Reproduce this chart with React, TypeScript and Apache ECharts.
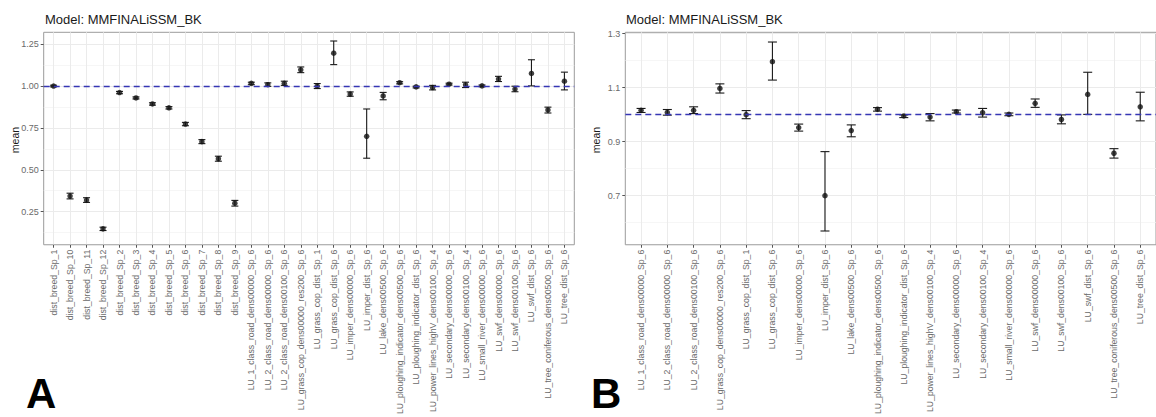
import React, { useEffect, useRef } from "react";
import * as echarts from "echarts";

const titleText = "Model: MMFINALiSSM_BK";

const distCats = [
  "dist_breed_Sp_1", "dist_breed_Sp_10", "dist_breed_Sp_11", "dist_breed_Sp_12",
  "dist_breed_Sp_2", "dist_breed_Sp_3", "dist_breed_Sp_4", "dist_breed_Sp_5",
  "dist_breed_Sp_6", "dist_breed_Sp_7", "dist_breed_Sp_8", "dist_breed_Sp_9",
];
const distMean = [1.0, 0.343, 0.319, 0.147, 0.961, 0.929, 0.893, 0.87, 0.773, 0.668, 0.566, 0.3];
const distLo = [0.995, 0.326, 0.305, 0.137, 0.954, 0.923, 0.886, 0.863, 0.763, 0.656, 0.551, 0.283];
const distHi = [1.005, 0.36, 0.333, 0.157, 0.968, 0.935, 0.9, 0.877, 0.783, 0.68, 0.581, 0.317];

const luCats = [
  "LU_1_class_road_dens00000_Sp_6", "LU_2_class_road_dens00000_Sp_6", "LU_2_class_road_dens00100_Sp_6",
  "LU_grass_cop_dens00000_res200_Sp_6", "LU_grass_cop_dist_Sp_1", "LU_grass_cop_dist_Sp_6",
  "LU_imper_dens00000_Sp_6", "LU_imper_dist_Sp_6", "LU_lake_dens00500_Sp_6",
  "LU_ploughing_indicator_dens00500_Sp_6", "LU_ploughing_indicator_dist_Sp_6",
  "LU_power_lines_highV_dens00100_Sp_4", "LU_secondary_dens00000_Sp_6", "LU_secondary_dens00100_Sp_4",
  "LU_small_river_dens00000_Sp_6", "LU_swf_dens00000_Sp_6", "LU_swf_dens00100_Sp_6",
  "LU_swf_dist_Sp_6", "LU_tree_coniferous_dens00500_Sp_6", "LU_tree_dist_Sp_6",
];
const luMean = [1.016, 1.008, 1.016, 1.097, 1.0, 1.196, 0.952, 0.7, 0.941, 1.02, 0.995, 0.991, 1.011, 1.007, 1.001, 1.042, 0.982, 1.075, 0.857, 1.029];
const luLo = [1.008, 0.998, 1.004, 1.08, 0.985, 1.128, 0.939, 0.569, 0.918, 1.013, 0.989, 0.977, 1.006, 0.991, 0.996, 1.027, 0.966, 1.001, 0.839, 0.977];
const luHi = [1.023, 1.019, 1.029, 1.114, 1.015, 1.269, 0.965, 0.863, 0.962, 1.026, 0.999, 1.004, 1.017, 1.023, 1.006, 1.058, 0.999, 1.157, 0.874, 1.083];

const ticksA = [0.25, 0.5, 0.75, 1.0, 1.25];
const minorA = [0.125, 0.375, 0.625, 0.875, 1.125];
const ticksB = [0.7, 0.9, 1.1, 1.3];
const minorB = [0.6, 0.8, 1.0, 1.2];
const refValue = 1;

const FONT = "'Liberation Sans', Arial, sans-serif";

export default function App() {
  const ref = useRef<HTMLDivElement>(null);
  useEffect(() => {
    if (!ref.current) return;
    const chart = echarts.init(ref.current, null, { renderer: "svg" });

    const catsA = distCats.concat(luCats);
    const meanA = distMean.concat(luMean);
    const loA = distLo.concat(luLo);
    const hiA = distHi.concat(luHi);

    const xAxisFor = (gridIndex: number, cats: string[]) => {
      const idx = cats.map((_, i) => i + 1);
      return {
        type: "value",
        gridIndex,
        min: 0.4,
        max: cats.length + 0.6,
        axisLine: { show: false },
        axisTick: { show: true, length: 3, customValues: idx, lineStyle: { color: "#555", width: 1 } },
        axisLabel: {
          customValues: idx,
          rotate: 90,
          margin: 5,
          fontSize: 8.7,
          color: "#6a6a6a",
          fontFamily: FONT,
          formatter: (v: number) => cats[Math.round(v) - 1] ?? "",
        },
        splitLine: { show: true, lineStyle: { color: "#ebebeb", width: 1 } },
      };
    };

    const yMajor = (gridIndex: number, min: number, max: number, ticks: number[], dec: number) => ({
      type: "value",
      gridIndex,
      min,
      max,
      axisLine: { show: false },
      axisTick: { show: true, length: 3, customValues: ticks, lineStyle: { color: "#555", width: 1 } },
      axisLabel: {
        customValues: ticks,
        margin: 5,
        fontSize: 9,
        color: "#6a6a6a",
        fontFamily: FONT,
        formatter: (v: number) => v.toFixed(dec),
      },
      splitLine: { show: true, lineStyle: { color: "#ebebeb", width: 1 } },
    });

    const yMinor = (gridIndex: number, min: number, max: number, ticks: number[]) => ({
      type: "value",
      gridIndex,
      min,
      max,
      position: "left",
      axisLine: { show: false },
      axisTick: { show: false, customValues: ticks },
      axisLabel: { show: false, customValues: ticks },
      splitLine: { show: true, lineStyle: { color: "#f2f2f2", width: 0.7 } },
    });

    const errSeries = (xi: number, yi: number, data: number[][], half: number) => ({
      type: "custom",
      xAxisIndex: xi,
      yAxisIndex: yi,
      encode: { x: 0, y: [1, 2] },
      z: 3,
      silent: true,
      clip: false,
      renderItem: (_p: any, api: any) => {
        const x = api.value(0);
        const top = api.coord([x, api.value(2)]);
        const bot = api.coord([x, api.value(1)]);
        const st = { stroke: "#1a1a1a", lineWidth: 1.1 };
        return {
          type: "group",
          children: [
            { type: "line", shape: { x1: top[0], y1: top[1], x2: bot[0], y2: bot[1] }, style: st },
            { type: "line", shape: { x1: top[0] - half, y1: top[1], x2: top[0] + half, y2: top[1] }, style: st },
            { type: "line", shape: { x1: bot[0] - half, y1: bot[1], x2: bot[0] + half, y2: bot[1] }, style: st },
          ],
        };
      },
      data,
    });

    const markLine = {
      silent: true,
      symbol: ["none", "none"],
      label: { show: false },
      lineStyle: { type: [6, 4], color: "#3636b4", width: 1.4 },
      data: [{ yAxis: refValue }],
    };

    const pointSeries = (xi: number, yi: number, data: number[][], size: number) => ({
      type: "scatter",
      xAxisIndex: xi,
      yAxisIndex: yi,
      symbol: "circle",
      symbolSize: size,
      itemStyle: { color: "#111" },
      z: 4,
      silent: true,
      data,
      markLine,
    });

    const dataErrA = catsA.map((_, i) => [i + 1, loA[i], hiA[i]]);
    const dataPtA = catsA.map((_, i) => [i + 1, meanA[i]]);
    const dataErrB = luCats.map((_, i) => [i + 1, luLo[i], luHi[i]]);
    const dataPtB = luCats.map((_, i) => [i + 1, luMean[i]]);

    chart.setOption({
      animation: false,
      textStyle: { fontFamily: FONT },
      grid: [
        { left: 43.7, top: 32.3, width: 530.6, height: 214.4, show: true, borderColor: "#9b9b9b", borderWidth: 1, backgroundColor: "#fff" },
        { left: 625.3, top: 32.3, width: 536.3, height: 215.4, show: true, borderColor: "#9b9b9b", borderWidth: 1, backgroundColor: "#fff" },
      ],
      xAxis: [xAxisFor(0, catsA), xAxisFor(1, luCats)],
      yAxis: [
        yMajor(0, 0.052, 1.321, ticksA, 2),
        yMinor(0, 0.052, 1.321, minorA),
        yMajor(1, 0.518, 1.305, ticksB, 1),
        yMinor(1, 0.518, 1.305, minorB),
      ],
      graphic: [
        { type: "text", x: 45, y: 19.5, style: { text: titleText, font: `13px ${FONT}`, fill: "#1a1a1a", verticalAlign: "middle" } },
        { type: "text", x: 626, y: 19.5, style: { text: titleText, font: `13px ${FONT}`, fill: "#1a1a1a", verticalAlign: "middle" } },
        { type: "text", x: 14.5, y: 140, rotation: Math.PI / 2, style: { text: "mean", font: `10.5px ${FONT}`, fill: "#1a1a1a", align: "center", verticalAlign: "middle" } },
        { type: "text", x: 596, y: 140, rotation: Math.PI / 2, style: { text: "mean", font: `10.5px ${FONT}`, fill: "#1a1a1a", align: "center", verticalAlign: "middle" } },
        { type: "text", x: 26, y: 393, style: { text: "A", font: `bold 42px ${FONT}`, fill: "#000", verticalAlign: "middle" } },
        { type: "text", x: 591, y: 393, style: { text: "B", font: `bold 42px ${FONT}`, fill: "#000", verticalAlign: "middle" } },
      ],
      series: [
        errSeries(0, 0, dataErrA, 3.5),
        pointSeries(0, 0, dataPtA, 5.5),
        errSeries(1, 2, dataErrB, 4.5),
        pointSeries(1, 2, dataPtB, 5.5),
      ],
    });

    return () => chart.dispose();
  }, []);

  return (
    <div
      ref={ref}
      style={{ position: "absolute", left: 0, top: 0, width: 1156, height: 417, background: "#fff" }}
    />
  );
}
